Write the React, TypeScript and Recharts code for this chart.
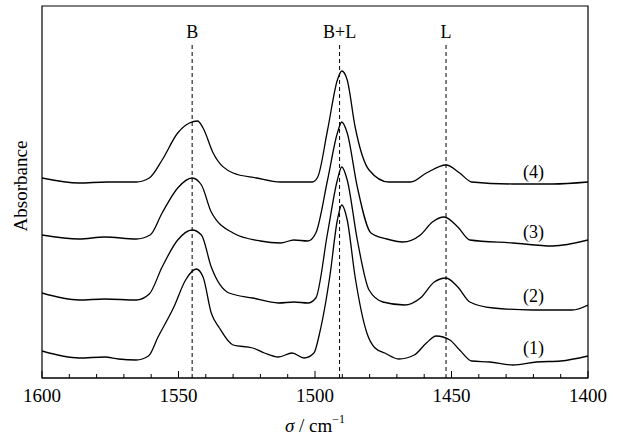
import React from 'react';
import { LineChart, Line, XAxis, YAxis, ReferenceLine, ReferenceArea, ReferenceDot } from 'recharts';

const FONT = "'Liberation Serif', 'Times New Roman', serif";

// Wavenumbers (cm^-1) and absorbance readings for each spectrum
const wn1 = [1600, 1586.4, 1577, 1572, 1565.5, 1561, 1557.5, 1551.7, 1547.4, 1543.5, 1541, 1538, 1535, 1530, 1522.8, 1518.5, 1513.4, 1508.4, 1504, 1500.4, 1498.3, 1494.6, 1491.8, 1490.2, 1488.2, 1485.3, 1481, 1478, 1474.4, 1469.4, 1463.6, 1459.2, 1455.6, 1450.6, 1447, 1442.6, 1436, 1427.5, 1418.8, 1410, 1400];
const abs1 = [0.27, 0.2, 0.21, 0.19, 0.18, 0.22, 0.41, 0.71, 0.98, 1.09, 1.01, 0.65, 0.5, 0.33, 0.3, 0.25, 0.21, 0.25, 0.2, 0.25, 0.45, 1.01, 1.58, 1.73, 1.58, 1.01, 0.45, 0.3, 0.25, 0.19, 0.23, 0.35, 0.42, 0.38, 0.28, 0.17, 0.16, 0.13, 0.16, 0.17, 0.22];

const wn2 = [1600, 1586.4, 1577, 1565.5, 1560.7, 1556, 1550.3, 1545, 1541.6, 1538, 1531.5, 1522.8, 1513.4, 1507.7, 1502.6, 1499.7, 1495.4, 1491.8, 1490.2, 1488.2, 1484.5, 1480.2, 1475.1, 1467.2, 1461.4, 1456.3, 1452, 1447.7, 1443.3, 1434.7, 1420.2, 1405.8, 1400];
const abs2 = [0.85, 0.78, 0.79, 0.78, 0.84, 1.11, 1.38, 1.48, 1.43, 1.11, 0.85, 0.8, 0.75, 0.76, 0.75, 0.8, 1.45, 1.98, 2.11, 1.98, 1.38, 0.88, 0.76, 0.73, 0.8, 0.96, 1.0, 0.91, 0.76, 0.7, 0.68, 0.68, 0.73];

const wn3 = [1600, 1586.4, 1577, 1565.5, 1560.4, 1556, 1550.3, 1545, 1541.6, 1538, 1530, 1520, 1512.7, 1507.7, 1502.6, 1499.7, 1495.4, 1491.8, 1490.2, 1488.2, 1484.5, 1479.5, 1473.7, 1467.9, 1461.4, 1457, 1452.7, 1447.7, 1443.3, 1427.5, 1413, 1400];
const abs3 = [1.43, 1.39, 1.41, 1.39, 1.43, 1.65, 1.9, 2.0, 1.93, 1.66, 1.45, 1.37, 1.35, 1.38, 1.37, 1.45, 1.98, 2.45, 2.56, 2.45, 1.91, 1.45, 1.39, 1.36, 1.43, 1.56, 1.61, 1.51, 1.38, 1.35, 1.32, 1.38];

const wn4 = [1600, 1586.4, 1576.3, 1565.5, 1560.7, 1556, 1550.3, 1546, 1543, 1541, 1537.3, 1530, 1521.4, 1512.7, 1501, 1499, 1495.4, 1491.8, 1490.2, 1488.2, 1485.3, 1480.2, 1473, 1465, 1459.2, 1452, 1447, 1442.6, 1427.5, 1413, 1400];
const abs4 = [2.0, 1.95, 1.96, 1.96, 2.0, 2.18, 2.45, 2.55, 2.57, 2.5, 2.25, 2.05, 2.0, 1.96, 1.96, 2.01, 2.48, 2.98, 3.07, 2.98, 2.51, 2.08, 1.96, 1.96, 2.05, 2.13, 2.05, 1.96, 1.94, 1.94, 1.96];

// Band positions and labels
const bandPositions = [1545, 1491, 1452];
const bandLabels = ['B', 'B+L', 'L'];

// Curve labels
const curveLabels = ['(1)', '(2)', '(3)', '(4)'];
const curveLabelX = 1420;
const curveLabelY = [0.3, 0.82, 1.46, 2.06];

// Axis ticks
const xTicks = [1600, 1590, 1580, 1570, 1560, 1550, 1540, 1530, 1520, 1510, 1500, 1490, 1480, 1470, 1460, 1450, 1440, 1430, 1420, 1410, 1400];

const build = (xs: number[], ys: number[]) => xs.map((x, i) => ({ x, y: ys[i] }));
const series = [build(wn1, abs1), build(wn2, abs2), build(wn3, abs3), build(wn4, abs4)];

const XTick = (props: any) => {
  const { x, y, payload } = props;
  const v = payload.value;
  const major = v % 50 === 0;
  return (
    <g>
      <line x1={x} x2={x} y1={y} y2={y - (major ? 7 : 4)} stroke="#000" strokeWidth={1} />
      {major && (
        <text x={x} y={y + 24} textAnchor="middle" fontSize={19} fontFamily={FONT} fill="#000">
          {v}
        </text>
      )}
    </g>
  );
};

export default function App() {
  return (
    <div style={{ position: 'absolute', left: 0, top: 0, background: '#fff' }}>
      <LineChart width={619} height={439} margin={{ top: 6, right: 31, bottom: 0, left: 0 }}>
        <XAxis
          dataKey="x"
          type="number"
          domain={[1400, 1600]}
          reversed
          allowDataOverflow
          ticks={xTicks}
          interval={0}
          tick={<XTick />}
          tickLine={false}
          tickSize={0}
          tickMargin={0}
          axisLine={{ stroke: '#000', strokeWidth: 1.2 }}
          height={61}
          label={{
            content: () => (
              <text x={315} y={432} textAnchor="middle" fontSize={19} fontFamily={FONT} fill="#000">
                <tspan fontStyle="italic">σ</tspan>
                <tspan> / cm</tspan>
                <tspan dy={-9} fontSize={12}>−1</tspan>
              </text>
            ),
          }}
        />
        <YAxis
          type="number"
          domain={[0, 3.72]}
          width={42}
          tick={false}
          tickLine={false}
          axisLine={false}
          label={{
            content: () => (
              <text
                x={27}
                y={186}
                transform="rotate(-90, 27, 186)"
                textAnchor="middle"
                fontSize={19}
                fontFamily={FONT}
                fill="#000"
              >
                Absorbance
              </text>
            ),
          }}
        />
        <ReferenceArea x1={1400} x2={1600} y1={0} y2={3.72} fill="none" stroke="#000" strokeWidth={1.2} ifOverflow="visible" />
        {bandPositions.map((b, i) => (
          <ReferenceLine
            key={'bl' + i}
            segment={[{ x: b, y: 0 }, { x: b, y: 3.33 }]}
            stroke="#000"
            strokeWidth={1}
            strokeDasharray="4 3"
            ifOverflow="visible"
          />
        ))}
        {bandPositions.map((b, i) => (
          <ReferenceDot
            key={'bt' + i}
            x={b}
            y={3.46}
            r={0}
            stroke="none"
            fill="none"
            ifOverflow="visible"
            label={{ value: bandLabels[i], position: 'center', fill: '#000', fontSize: 18, fontFamily: FONT }}
          />
        ))}
        {curveLabels.map((c, i) => (
          <ReferenceDot
            key={'cl' + i}
            x={curveLabelX}
            y={curveLabelY[i]}
            r={0}
            stroke="none"
            fill="none"
            ifOverflow="visible"
            label={{ value: c, position: 'center', fill: '#000', fontSize: 18, fontFamily: FONT }}
          />
        ))}
        {series.map((d, i) => (
          <Line
            key={'s' + i}
            data={d}
            dataKey="y"
            type="monotone"
            stroke="#000"
            strokeWidth={1.3}
            dot={false}
            activeDot={false}
            isAnimationActive={false}
          />
        ))}
      </LineChart>
    </div>
  );
}
